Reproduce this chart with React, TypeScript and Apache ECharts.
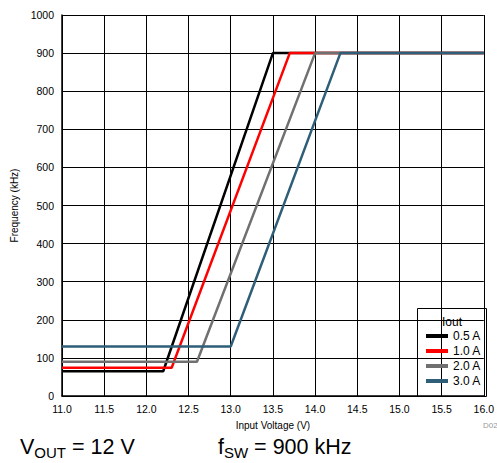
import React, { useEffect, useRef } from "react";
import * as echarts from "echarts";

const seriesNames = ["0.5 A", "1.0 A", "2.0 A", "3.0 A"];
const seriesColors = ["#000000", "#ff0000", "#707070", "#2f5f78"];
const vin05: number[] = [11.0, 12.2, 13.5, 16.0];
const f05: number[] = [65, 65, 900, 900];
const vin10: number[] = [11.0, 12.3, 13.7, 16.0];
const f10: number[] = [74, 74, 900, 900];
const vin20: number[] = [11.0, 12.6, 14.0, 16.0];
const f20: number[] = [90, 90, 900, 900];
const vin30: number[] = [11.0, 13.0, 14.3, 16.0];
const f30: number[] = [130, 130, 900, 900];

const xs = [vin05, vin10, vin20, vin30];
const ys = [f05, f10, f20, f30];

export default function App() {
  const ref = useRef<HTMLDivElement>(null);
  useEffect(() => {
    if (!ref.current) return;
    const chart = echarts.init(ref.current, undefined, { renderer: "svg" });
    const font = "Liberation Sans, Arial, sans-serif";
    chart.setOption({
      animation: false,
      textStyle: { fontFamily: font },
      grid: { left: 62, top: 15, right: 11, bottom: 67 },
      xAxis: {
        type: "value",
        min: 11,
        max: 16,
        interval: 0.5,
        name: "Input Voltage (V)",
        nameLocation: "middle",
        nameGap: 24,
        nameTextStyle: { fontSize: 10, color: "#000", fontFamily: font },
        axisLine: { onZero: false, lineStyle: { color: "#000", width: 1.5 } },
        axisTick: { show: false },
        axisLabel: {
          fontSize: 10.5,
          color: "#000",
          margin: 7,
          formatter: (v: number) => v.toFixed(1),
          fontFamily: font,
        },
        splitLine: { show: true, lineStyle: { color: "#000", width: 1 } },
      },
      yAxis: {
        type: "value",
        min: 0,
        max: 1000,
        interval: 100,
        name: "Frequency (kHz)",
        nameLocation: "middle",
        nameGap: 42,
        nameTextStyle: { fontSize: 10, color: "#000", fontFamily: font },
        axisLine: { show: true, lineStyle: { color: "#000", width: 1.5 } },
        axisTick: { show: false },
        axisLabel: {
          fontSize: 10.5,
          color: "#000",
          margin: 8,
          fontFamily: font,
          formatter: (v: number) => String(v),
        },
        splitLine: { show: true, lineStyle: { color: "#000", width: 1 } },
      },
      legend: {
        orient: "vertical",
        left: 421,
        top: 325,
        itemWidth: 22,
        itemHeight: 4,
        itemGap: 3,
        icon: "rect",
        textStyle: { fontSize: 12, color: "#000", fontFamily: font },
        data: seriesNames,
      },
      graphic: [
        {
          type: "rect",
          shape: { x: 417.5, y: 308.5, width: 69, height: 88 },
          style: { fill: "#fff", stroke: "#000", lineWidth: 1 },
          z: 0,
        },
        {
          type: "text",
          x: 452,
          y: 322,
          style: {
            text: "Iout",
            fontSize: 12,
            fill: "#000",
            fontFamily: font,
            align: "center",
            verticalAlign: "middle",
          },
          z: 10,
        },
        {
          type: "text",
          x: 483,
          y: 421,
          style: { text: "D02", fontSize: 8, fill: "#999", fontFamily: font },
        },
        {
          type: "text",
          x: 20,
          y: 433,
          style: {
            text: "V{sub|OUT} = 12 V",
            fontSize: 21.5,
            fill: "#000",
            fontFamily: font,
            rich: { sub: { fontSize: 15, fill: "#000", fontFamily: font, padding: [12, 0, 0, 0] } },
          },
        },
        {
          type: "text",
          x: 218,
          y: 433,
          style: {
            text: "f{sub|SW} = 900 kHz",
            fontSize: 21.5,
            fill: "#000",
            fontFamily: font,
            rich: { sub: { fontSize: 15, fill: "#000", fontFamily: font, padding: [12, 0, 0, 0] } },
          },
        },
      ],
      series: seriesNames.map((name, i) => ({
        name,
        type: "line",
        data: xs[i].map((x, j) => [x, ys[i][j]]),
        symbol: "none",
        color: seriesColors[i],
        lineStyle: { color: seriesColors[i], width: 2.5 },
        z: 5 + i,
      })),
    });
    return () => chart.dispose();
  }, []);
  return (
    <div
      ref={ref}
      style={{ position: "absolute", left: 0, top: 0, width: 497, height: 463, background: "#fff" }}
    />
  );
}
